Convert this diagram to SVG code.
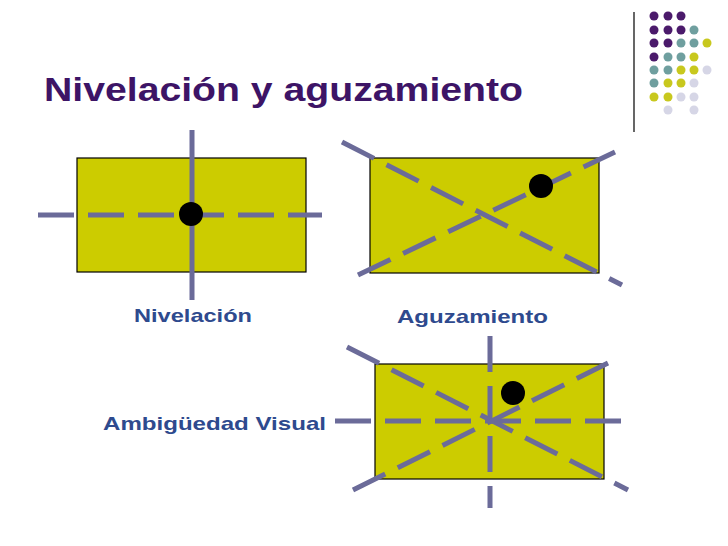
<svg xmlns="http://www.w3.org/2000/svg" width="728" height="546" viewBox="0 0 728 546">
<style>
.r{fill:#cccc00;stroke:#000;stroke-width:1.2}
.d{stroke:#6b6b99;stroke-width:5;stroke-dasharray:36 14;fill:none}
.s{stroke:#6b6b99;stroke-width:5;fill:none}
.t{font-family:"Liberation Sans",Arial,sans-serif;font-weight:bold;fill:#2e4a8e;font-size:19px}
.P{fill:#4b1a6b}.T{fill:#6f9f9f}.Y{fill:#c8c81e}.L{fill:#d6d6e6}
</style>
<rect width="728" height="546" fill="#fff"/>
<g id="deco">
<line x1="634" y1="12" x2="634" y2="132" stroke="#000" stroke-width="1.2"/>
<g>
<circle class="P" cx="654" cy="16" r="4.5"/><circle class="P" cx="668" cy="16" r="4.5"/><circle class="P" cx="681" cy="16" r="4.5"/>
<circle class="P" cx="654" cy="30" r="4.5"/><circle class="P" cx="668" cy="30" r="4.5"/><circle class="P" cx="681" cy="30" r="4.5"/><circle class="T" cx="694" cy="30" r="4.5"/>
<circle class="P" cx="654" cy="43" r="4.5"/><circle class="P" cx="668" cy="43" r="4.5"/><circle class="T" cx="681" cy="43" r="4.5"/><circle class="T" cx="694" cy="43" r="4.5"/><circle class="Y" cx="707" cy="43" r="4.5"/>
<circle class="P" cx="654" cy="57" r="4.5"/><circle class="T" cx="668" cy="57" r="4.5"/><circle class="T" cx="681" cy="57" r="4.5"/><circle class="Y" cx="694" cy="57" r="4.5"/>
<circle class="T" cx="654" cy="70" r="4.5"/><circle class="T" cx="668" cy="70" r="4.5"/><circle class="Y" cx="681" cy="70" r="4.5"/><circle class="Y" cx="694" cy="70" r="4.5"/><circle class="L" cx="707" cy="70" r="4.5"/>
<circle class="T" cx="654" cy="83" r="4.5"/><circle class="Y" cx="668" cy="83" r="4.5"/><circle class="Y" cx="681" cy="83" r="4.5"/><circle class="L" cx="694" cy="83" r="4.5"/>
<circle class="Y" cx="654" cy="97" r="4.5"/><circle class="Y" cx="668" cy="97" r="4.5"/><circle class="L" cx="681" cy="97" r="4.5"/><circle class="L" cx="694" cy="97" r="4.5"/>
<circle class="L" cx="668" cy="110" r="4.5"/><circle class="L" cx="694" cy="110" r="4.5"/>
</g>
</g>
<text x="44" y="101" font-family="Liberation Sans,Arial,sans-serif" font-weight="bold" font-size="33" fill="#3d1466" textLength="479" lengthAdjust="spacingAndGlyphs">Nivelación y aguzamiento</text>
<g id="nivelacion">
<rect class="r" x="77" y="158" width="229" height="114"/>
<line class="d" x1="38" y1="215" x2="322" y2="215"/>
<line class="s" x1="192" y1="130" x2="192" y2="300"/>
<circle cx="191" cy="214" r="12"/>
<text class="t" x="134" y="322" textLength="118" lengthAdjust="spacingAndGlyphs">Nivelación</text>
</g>
<g id="aguzamiento">
<rect class="r" x="370" y="158" width="229" height="115"/>
<line class="d" x1="342" y1="142" x2="622" y2="285"/>
<line class="d" x1="358" y1="275" x2="615" y2="152"/>
<circle cx="541" cy="186" r="12"/>
<text class="t" x="397" y="323" textLength="151" lengthAdjust="spacingAndGlyphs">Aguzamiento</text>
</g>
<g id="ambiguedad">
<rect class="r" x="375" y="364" width="229" height="115"/>
<line class="d" x1="335" y1="421" x2="622" y2="421"/>
<line class="d" x1="490" y1="336" x2="490" y2="508"/>
<line class="d" x1="347" y1="347" x2="628" y2="490"/>
<line class="d" x1="353" y1="490" x2="608" y2="363"/>
<circle cx="513" cy="393" r="12"/>
<text class="t" x="103" y="430" textLength="223" lengthAdjust="spacingAndGlyphs">Ambigüedad Visual</text>
</g>
</svg>
